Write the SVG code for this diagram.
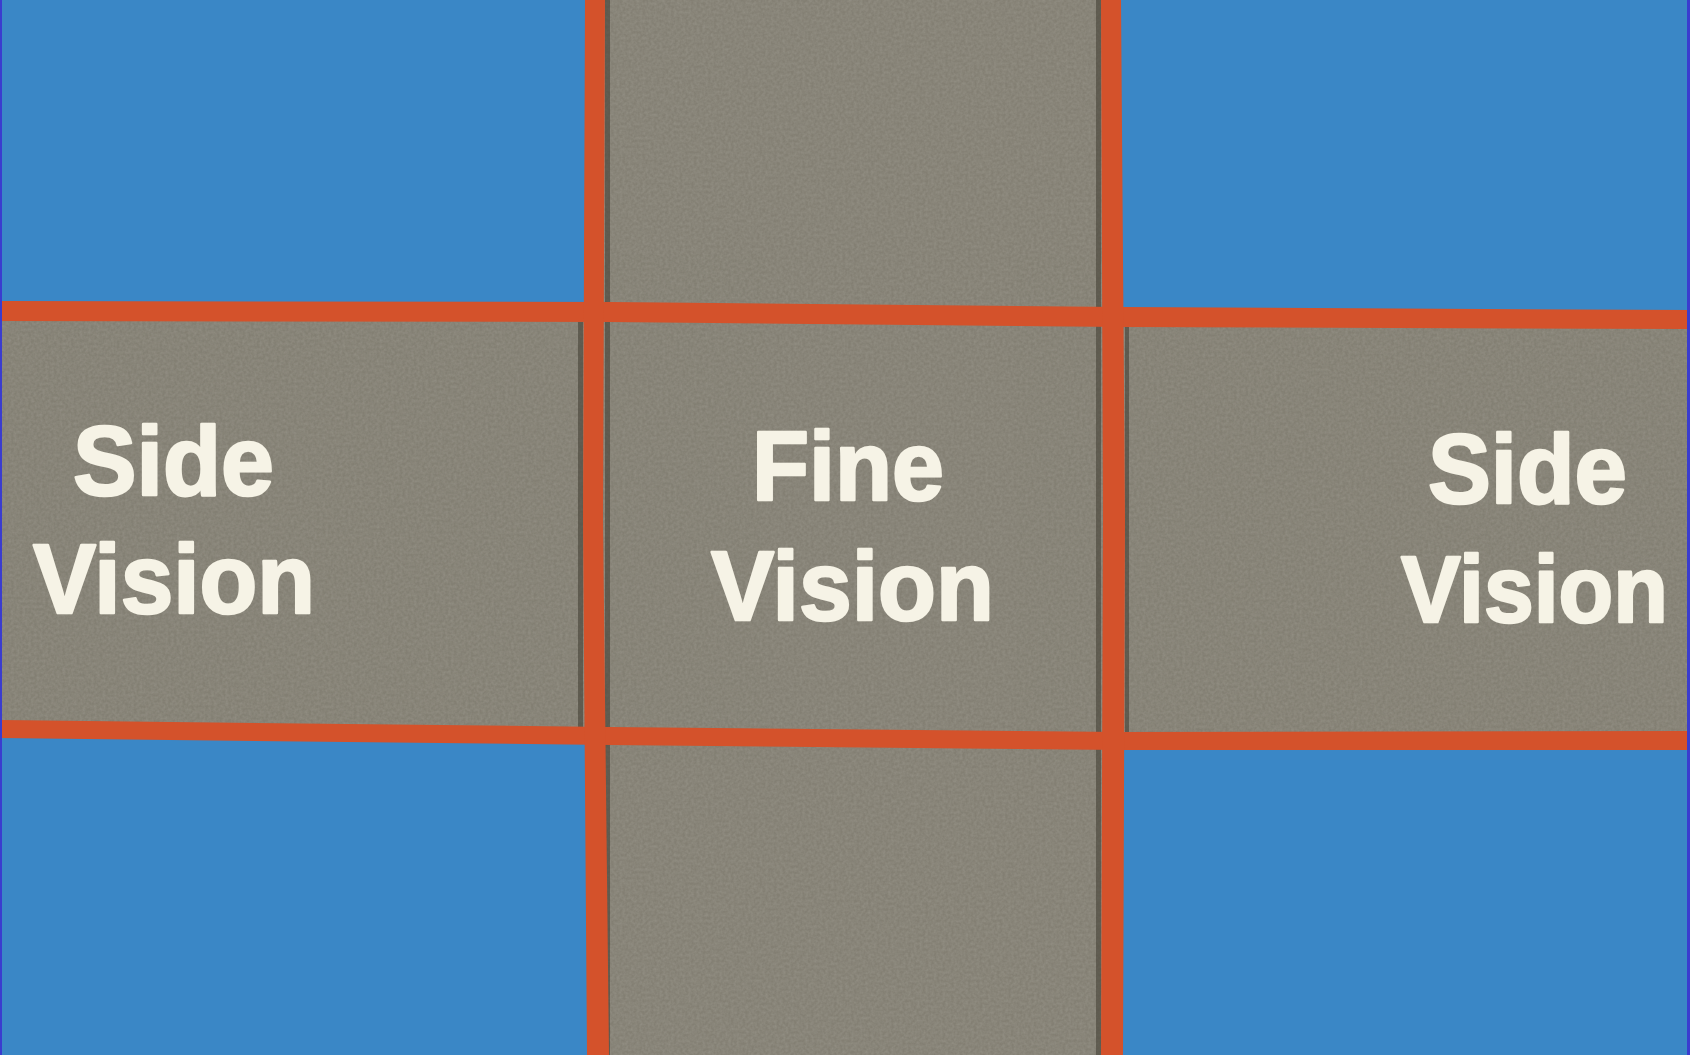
<svg xmlns="http://www.w3.org/2000/svg" width="1690" height="1055" viewBox="0 0 1690 1055">
  <defs>
    <style>
      .blue { fill: #3a87c6; }
      .gray { fill: #837f73; }
      .tape { fill: #d4522b; }
      .shadow { fill: #3e3a30; opacity: 0.55; }
      .label { font-family: "Liberation Sans", Arial, Helvetica, sans-serif; font-weight: bold; font-size: 99px; fill: #f6f3e6; stroke: #f6f3e6; stroke-width: 2.6; stroke-linejoin: round; }
    </style>
    <filter id="grain" x="0" y="0" width="100%" height="100%">
      <feTurbulence type="fractalNoise" baseFrequency="0.35" numOctaves="2" seed="7" result="n"/>
      <feColorMatrix in="n" type="matrix" values="0 0 0 0 0.5  0 0 0 0 0.49  0 0 0 0 0.44  0 0 0 0.9 -0.2"/>
      <feComposite in2="SourceGraphic" operator="in"/>
    </filter>
    <clipPath id="grayArea">
      <rect x="590" y="0" width="520" height="1055"/>
      <polygon points="0,311 610,312 1120,317 1690,319 1690,740 1120,741 610,736 0,729"/>
    </clipPath>
  </defs>

  <g id="background">
    <rect class="blue" x="0" y="0" width="1690" height="1055"/>
  </g>

  <g id="fine-column">
    <rect class="gray" x="592" y="0" width="518" height="1055"/>
  </g>

  <g id="side-row">
    <polygon class="gray" points="0,311 610,312 1120,317 1690,319 1690,740 1120,741 610,736 0,729"/>
  </g>

  <g id="texture" clip-path="url(#grayArea)">
    <rect x="0" y="0" width="1690" height="1055" fill="#837f73" filter="url(#grain)" opacity="0.4"/>
  </g>

  <g id="paper-edges">
    <rect class="shadow" x="605" y="0" width="5" height="1055"/>
    <rect class="shadow" x="1096" y="0" width="5" height="1055"/>
    <rect class="shadow" x="578" y="322" width="5" height="405"/>
    <rect class="shadow" x="1125" y="327" width="4" height="405"/>
  </g>

  <g id="tape-lines">
    <polygon class="tape" points="0,301 610,302 1120,307 1690,310 1690,329 1120,327 610,322 0,321"/>
    <polygon class="tape" points="0,720 610,727 1120,732 1690,731 1690,750 1120,750 610,745 0,738"/>
    <polygon class="tape" points="585,0 605,0 603,520 609,1055 587,1055 583,520"/>
    <polygon class="tape" points="1101,0 1121,0 1125,520 1123,1055 1101,1055 1103,520"/>
  </g>

  <g id="frame">
    <rect x="0" y="0" width="2" height="1055" fill="#3a3ccf"/>
    <rect x="1687" y="0" width="3" height="1055" fill="#3a3ccf"/>
  </g>

  <g id="side-vision-left">
    <text class="label" x="73" y="495" textLength="201" lengthAdjust="spacingAndGlyphs">Side</text>
    <text class="label" x="33" y="613" textLength="282" lengthAdjust="spacingAndGlyphs">Vision</text>
  </g>

  <g id="fine-vision">
    <text class="label" x="752" y="500" textLength="192" lengthAdjust="spacingAndGlyphs">Fine</text>
    <text class="label" x="711" y="620" textLength="283" lengthAdjust="spacingAndGlyphs">Vision</text>
  </g>

  <g id="side-vision-right">
    <text class="label" x="1428" y="503" textLength="199" lengthAdjust="spacingAndGlyphs">Side</text>
    <text class="label" x="1401" y="622" font-size="94" style="font-size:94px" textLength="267" lengthAdjust="spacingAndGlyphs">Vision</text>
  </g>
</svg>
